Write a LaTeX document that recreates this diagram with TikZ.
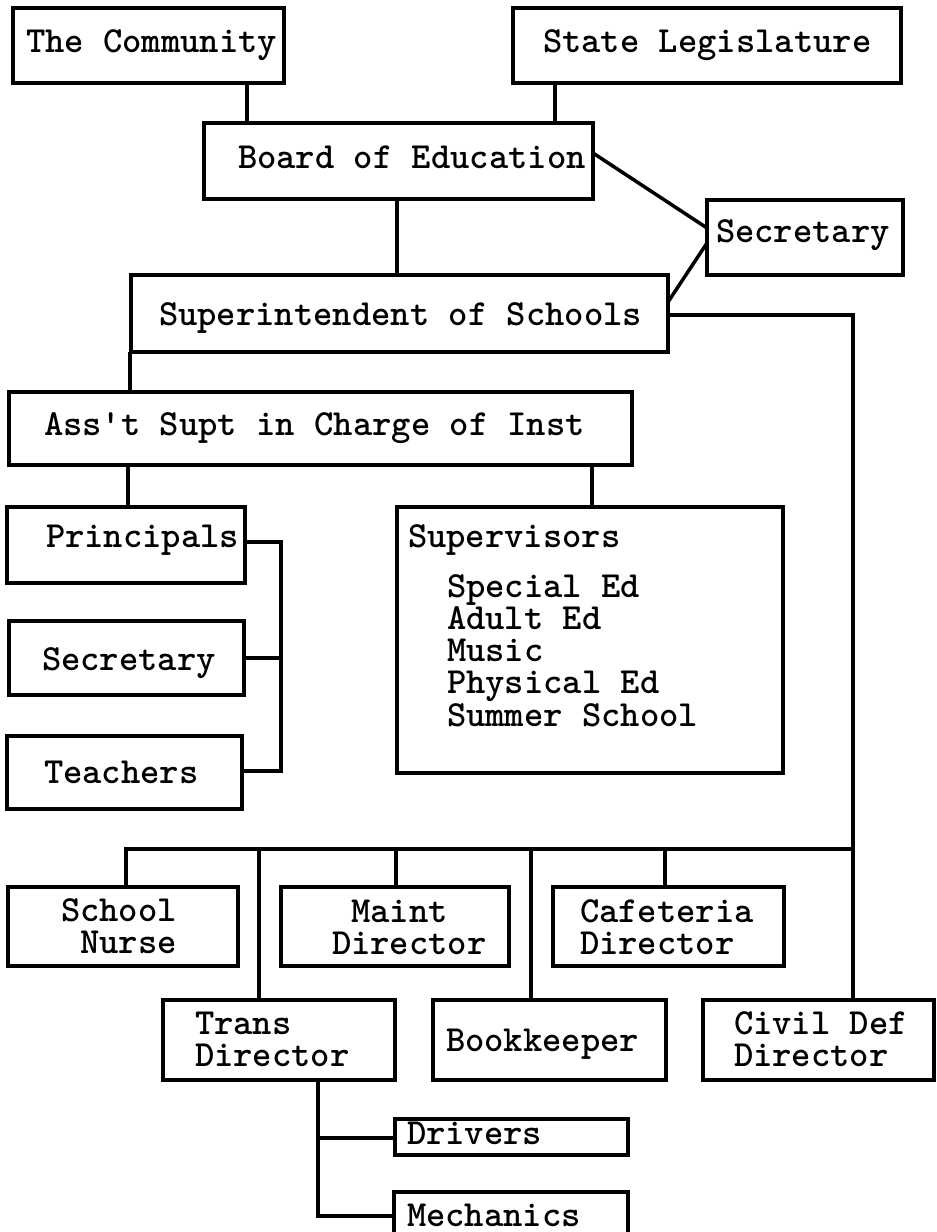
\documentclass[tikz,border=0pt]{standalone}
\newcommand\orgfont{\fontsize{36.8}{32}\selectfont\ttfamily\bfseries}
% box from corner (x1,y1) to (x2,y2): name, x1, y1, x2, y2
\newcommand\orgbox[5]{\node[orgbox, minimum width={#4-#2}, minimum height={#5-#3}] (#1) at ({(#2+#4)/2},{(#3+#5)/2}) {};}
\begin{document}
\begin{tikzpicture}[x=1pt, y=-1pt,
  orgbox/.style={draw, line width=4.5pt, inner sep=0pt, outer sep=0pt},
  link/.style={line width=3.5pt},
  lbl/.style={anchor=base west, inner sep=0pt, outer sep=0pt, font=\orgfont}]
\useasboundingbox (0,0) rectangle (937,1232);
\fill[white] (0,0) rectangle (937,1232);
\clip (0,0) rectangle (937,1232);

% boxes
\orgbox{community}{13}{8}{284}{83}
\orgbox{legis}{513}{8}{901}{83}
\orgbox{board}{204}{123}{593}{199}
\orgbox{sec}{707}{200}{903}{275}
\orgbox{super}{131}{275}{668}{352}
\orgbox{asst}{9}{392}{632}{465}
\orgbox{princ}{7}{507}{245}{583}
\orgbox{secb}{9}{621}{244}{695}
\orgbox{teach}{7}{736}{242}{809}
\orgbox{superv}{397}{507}{783}{773}
\orgbox{nurse}{8}{887}{238}{966}
\orgbox{maint}{281}{887}{509}{966}
\orgbox{cafe}{553}{887}{784}{966}
\orgbox{trans}{163}{1000}{395}{1080}
\orgbox{book}{433}{1000}{666}{1080}
\orgbox{civil}{703}{1000}{934}{1080}
\orgbox{drivers}{395}{1119}{628}{1155}
\orgbox{mech}{394}{1192}{628}{1245}

% texts
\node[lbl] (tcommunity) at (26,52) {The Community};
\node[lbl] (tlegis) at (543,52) {State Legislature};
\node[lbl] (tboard) at (238,168) {Board of Education};
\node[lbl] (tsec) at (716,242) {Secretary};
\node[lbl] (tsuper) at (159,325) {Superintendent of Schools};
\node[lbl] (tasst) at (44,435) {Ass't Supt in Charge of Inst};
\node[lbl] (tprinc) at (46,547) {Principals};
\node[lbl] (tsecb) at (42,670) {Secretary};
\node[lbl] (tteach) at (44,783) {Teachers};
\node[lbl] (tsuperv) at (408,547) {Supervisors};
\node[lbl] (tsupervlist) at (447,597) {\begin{tabular}[t]{@{}l@{}}Special Ed\\Adult Ed\\Music\\Physical Ed\\Summer School\end{tabular}};
\node[lbl] (tnurse) at (61,921) {\begin{tabular}[t]{@{}l@{}}School\\~Nurse\end{tabular}};
\node[lbl] (tmaint) at (332,922) {\begin{tabular}[t]{@{}l@{}}~Maint\\Director\end{tabular}};
\node[lbl] (tcafe) at (580,922) {\begin{tabular}[t]{@{}l@{}}Cafeteria\\Director\end{tabular}};
\node[lbl] (ttrans) at (195,1034) {\begin{tabular}[t]{@{}l@{}}Trans\\Director\end{tabular}};
\node[lbl] (tbook) at (446,1051) {Bookkeeper};
\node[lbl] (tcivil) at (734,1034) {\begin{tabular}[t]{@{}l@{}}Civil Def\\Director\end{tabular}};
\node[lbl] (tdrivers) at (407,1144) {Drivers};
\node[lbl] (tmech) at (407,1226) {Mechanics};

% connectors
\draw[link] (community.south -| 247,0) -- (board.north -| 247,0);
\draw[link] (legis.south -| 555,0) -- (board.north -| 555,0);
\draw[link] (board.east |- 0,153) -- (sec.west |- 0,228);
\draw[link] (super.east |- 0,302) -- (sec.west |- 0,243);
\draw[link] (board.south -| 397,0) -- (super.north -| 397,0);

\coordinate (busR) at (853,849);
\draw[link] (super.east |- 0,315) -| (civil.north -| busR);
\draw[link] (busR) -| (nurse.north -| 126,0);
\draw[link] (trans.north -| 259,0) -- (busR -| 259,0);
\draw[link] (maint.north -| 396,0) -- (busR -| 396,0);
\draw[link] (book.north -| 531,0) -- (busR -| 531,0);
\draw[link] (cafe.north -| 665,0) -- (busR -| 665,0);

\draw[link] (super.south -| 130,0) -- (asst.north -| 130,0);
\draw[link] (asst.south -| 128,0) -- (princ.north -| 128,0);
\draw[link] (asst.south -| 592,0) -- (superv.north -| 592,0);

\coordinate (bk) at (281,771);
\draw[link] (princ.east |- 0,542) -| (bk) -- (teach.east |- bk);
\draw[link] (secb.east |- 0,658) -- (bk |- 0,658);

\draw[link] (trans.south -| 318,0) |- (mech.west |- 0,1216);
\draw[link] (drivers.west |- 0,1138) -- (318,1138);
\end{tikzpicture}
\end{document}
